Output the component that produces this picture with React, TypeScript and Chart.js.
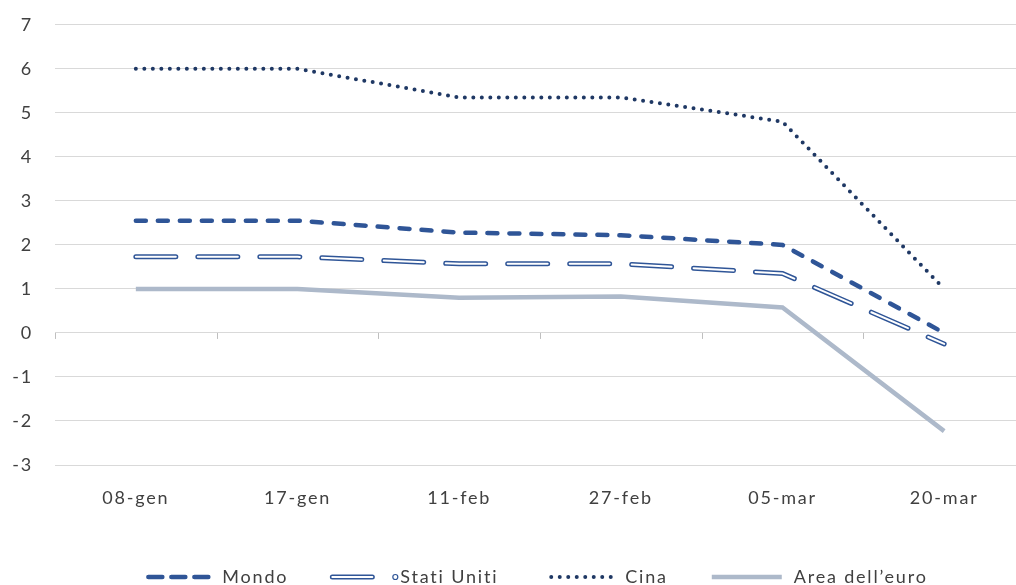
import React, { useEffect, useRef } from "react";
import { Chart, registerables } from "chart.js";

Chart.register(...registerables);

const categories = ["08-gen", "17-gen", "11-feb", "27-feb", "05-mar", "20-mar"];
const mondo = [2.55, 2.55, 2.28, 2.22, 2.0, 0.0];
const statiUniti = [1.73, 1.73, 1.57, 1.57, 1.35, -0.25];
const cina = [6.0, 6.0, 5.35, 5.35, 4.8, 1.0];
const areaEuro = [1.0, 1.0, 0.8, 0.83, 0.58, -2.23];
const seriesNames = ["Mondo", "Stati Uniti", "Cina", "Area dell\u2019euro"];
const yMin = -3;
const yMax = 7;

const BLUE = "#2f5597";
const NAVY = "#1f3864";
const GREY_BLUE = "#adb9ca";
const FONT = "Lato";
const TEXT = "#404040";
const SPACING = "1.8px";

const spacingPlugin = {
  id: "spacing",
  beforeInit(chart: any) {
    chart.ctx.letterSpacing = SPACING;
  },
  beforeDraw(chart: any) {
    chart.ctx.letterSpacing = SPACING;
  },
};

const zeroTicks = {
  id: "zeroTicks",
  beforeDatasetsDraw(chart: any) {
    const x = chart.scales.x;
    const y = chart.scales.y;
    const ctx = chart.ctx;
    const y0 = y.getPixelForValue(0);
    const half = (x.getPixelForValue(1) - x.getPixelForValue(0)) / 2;
    ctx.save();
    ctx.strokeStyle = "#bfbfbf";
    ctx.lineWidth = 1;
    ctx.beginPath();
    for (let i = 0; i <= categories.length; i++) {
      const px = Math.round(x.getPixelForValue(i) - half) + 0.5;
      ctx.moveTo(px, y0);
      ctx.lineTo(px, y0 + 6);
    }
    ctx.stroke();
    ctx.restore();
  },
};

function drawSample(ctx: any, kind: number, x0: number, x1: number, yc: number) {
  ctx.save();
  ctx.beginPath();
  ctx.moveTo(x0, yc);
  ctx.lineTo(x1, yc);
  if (kind === 0) {
    ctx.strokeStyle = BLUE;
    ctx.lineWidth = 4.5;
    ctx.lineCap = "round";
    ctx.setLineDash([14, 9]);
    ctx.stroke();
  } else if (kind === 1) {
    ctx.strokeStyle = BLUE;
    ctx.lineWidth = 5;
    ctx.lineCap = "round";
    ctx.stroke();
    ctx.strokeStyle = "#ffffff";
    ctx.lineWidth = 2;
    ctx.stroke();
  } else if (kind === 2) {
    ctx.strokeStyle = NAVY;
    ctx.lineWidth = 4;
    ctx.lineCap = "round";
    ctx.setLineDash([0, 8.5]);
    ctx.stroke();
  } else {
    ctx.strokeStyle = GREY_BLUE;
    ctx.lineWidth = 4.5;
    ctx.stroke();
  }
  ctx.restore();
}

const customLegend = {
  id: "customLegend",
  afterDraw(chart: any) {
    const ctx = chart.ctx;
    const area = chart.chartArea;
    const yc = area.bottom + 112;
    ctx.save();
    ctx.letterSpacing = SPACING;
    ctx.font = `18px ${FONT}`;
    ctx.fillStyle = TEXT;
    ctx.textBaseline = "middle";
    const sampleLens = [62, 40, 62, 70];
    const extra = [0, 25, 0, 0];
    const gapText = 12;
    const gapItem = 44;
    let total = 0;
    const widths = seriesNames.map((n, i) => {
      const w = sampleLens[i] + extra[i] + gapText + ctx.measureText(n).width;
      total += w;
      return w;
    });
    total += gapItem * (seriesNames.length - 1);
    let x = (area.left + area.right) / 2 - 2 - total / 2;
    seriesNames.forEach((n, i) => {
      drawSample(ctx, i, x, x + sampleLens[i], yc);
      let tx = x + sampleLens[i] + gapText;
      if (i === 1) {
        ctx.save();
        ctx.beginPath();
        ctx.arc(x + sampleLens[i] + extra[i] - 2, yc, 2.5, 0, Math.PI * 2);
        ctx.fillStyle = "#ffffff";
        ctx.fill();
        ctx.strokeStyle = BLUE;
        ctx.lineWidth = 1.2;
        ctx.stroke();
        ctx.restore();
        tx = x + sampleLens[i] + extra[i] + 3;
      }
      ctx.fillText(n, tx, yc);
      x += widths[i] + gapItem;
    });
    ctx.restore();
  },
};

export default function App() {
  const ref = useRef<HTMLCanvasElement | null>(null);
  useEffect(() => {
    if (!ref.current) return;
    const base = { pointRadius: 0, tension: 0, borderCapStyle: "round" as const };
    const chart = new Chart(ref.current, {
      type: "line",
      data: {
        labels: categories,
        datasets: [
          { ...base, label: seriesNames[2], data: cina, borderColor: NAVY, borderWidth: 4, borderDash: [0, 8.5] },
          { ...base, label: seriesNames[0], data: mondo, borderColor: BLUE, borderWidth: 4.5, borderDash: [10, 12] },
          { ...base, label: seriesNames[1] + " inner", data: statiUniti, borderColor: "#ffffff", borderWidth: 2, borderDash: [40, 22] },
          { ...base, label: seriesNames[1], data: statiUniti, borderColor: BLUE, borderWidth: 5, borderDash: [40, 22] },
          { ...base, label: seriesNames[3], data: areaEuro, borderColor: GREY_BLUE, borderWidth: 4.5, borderCapStyle: "butt" as const },
        ],
      },
      options: {
        responsive: false,
        animation: false,
        devicePixelRatio: 1,
        layout: { autoPadding: false, padding: { top: 24, right: 5, bottom: 85, left: 0 } },
        plugins: { legend: { display: false }, tooltip: { enabled: false } },
        scales: {
          x: {
            offset: true,
            grid: { display: false },
            border: { display: false },
            ticks: { font: { family: FONT, size: 18 }, color: TEXT, padding: 14, maxRotation: 0, autoSkip: false },
            afterFit: (s: any) => {
              s.height = 50;
            },
          },
          y: {
            min: yMin,
            max: yMax,
            grid: { color: "#d9d9d9", drawTicks: false, lineWidth: 1 },
            border: { display: false },
            ticks: { stepSize: 1, font: { family: FONT, size: 18 }, color: TEXT, padding: 22 },
            afterFit: (s: any) => {
              s.width = 55;
            },
          },
        },
      },
      plugins: [spacingPlugin, zeroTicks, customLegend],
    });
    return () => chart.destroy();
  }, []);
  return (
    <div style={{ position: "fixed", left: 0, top: 0, width: 1016, height: 585, overflow: "hidden", background: "#fff" }}>
      <canvas ref={ref} width={1030} height={608} style={{ width: 1030, height: 608, display: "block", marginTop: -8 }} />
    </div>
  );
}
